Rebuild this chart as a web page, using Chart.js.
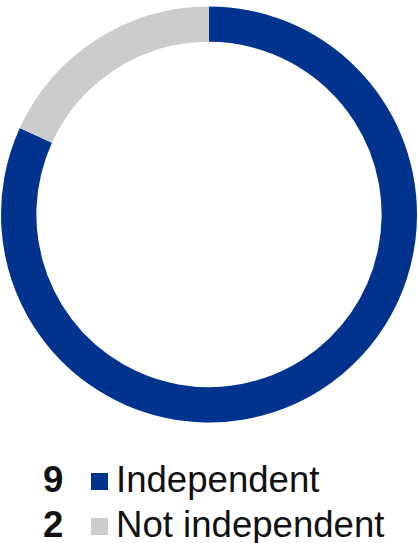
<!DOCTYPE html>
<html>
<head>
<meta charset="utf-8">
<script src="https://cdn.jsdelivr.net/npm/chart.js@4"></script>
<style>
	html, body { margin: 0; padding: 0; background: #fff; }
	body { width: 418px; height: 543px; position: relative; overflow: hidden; font-family: 'Liberation Sans', Arial, Helvetica, sans-serif; }
	#chartBox { position: absolute; left: 0; top: 0; width: 418px; height: 429px; }
	#legend { position: absolute; left: 43px; top: 457px; font-size: 36.6px; line-height: 45px; color: #111; }
	#legend .row { white-space: nowrap; }
	#legend .num { display: inline-block; width: 48px; font-weight: bold; }
	#legend .sq { display: inline-block; width: 17px; height: 17px; margin: 0 8px 2px 0; vertical-align: baseline; }
</style>
</head>
<body>
<div id="chartBox"><canvas id="chartjsDoughnut"></canvas></div>
<div id="legend"></div>
<script>
	'use strict';

	// board members by independence
	var categories = ["Independent", "Not independent"];
	var counts = [9, 2];

	var colors = {
		blue : "#00338d",
		grey : "#cccccc",
		cardBg : "#fff"
	};
	var segmentColors = [ colors.blue, colors.grey ];

	new Chart(document.getElementById('chartjsDoughnut'), {
		type : 'doughnut',
		data : {
			labels : categories,
			datasets : [ {
				backgroundColor : segmentColors,
				borderWidth : 0,
				data : counts
			} ]
		},
		options : {
			responsive : true,
			maintainAspectRatio : false,
			animation : false,
			cutout : '83%',
			layout : {
				padding : 1
			},
			plugins : {
				legend : {
					display : false
				},
				tooltip : {
					enabled : true
				}
			}
		}
	});

	// legend below: count, swatch, label
	var legend = document.getElementById('legend');
	categories.forEach(function(name, i) {
		var row = document.createElement('div');
		row.className = 'row';
		var num = document.createElement('span');
		num.className = 'num';
		num.textContent = counts[i];
		var sq = document.createElement('span');
		sq.className = 'sq';
		sq.style.background = segmentColors[i];
		row.appendChild(num);
		row.appendChild(sq);
		row.appendChild(document.createTextNode(name));
		legend.appendChild(row);
	});
</script>
</body>
</html>
